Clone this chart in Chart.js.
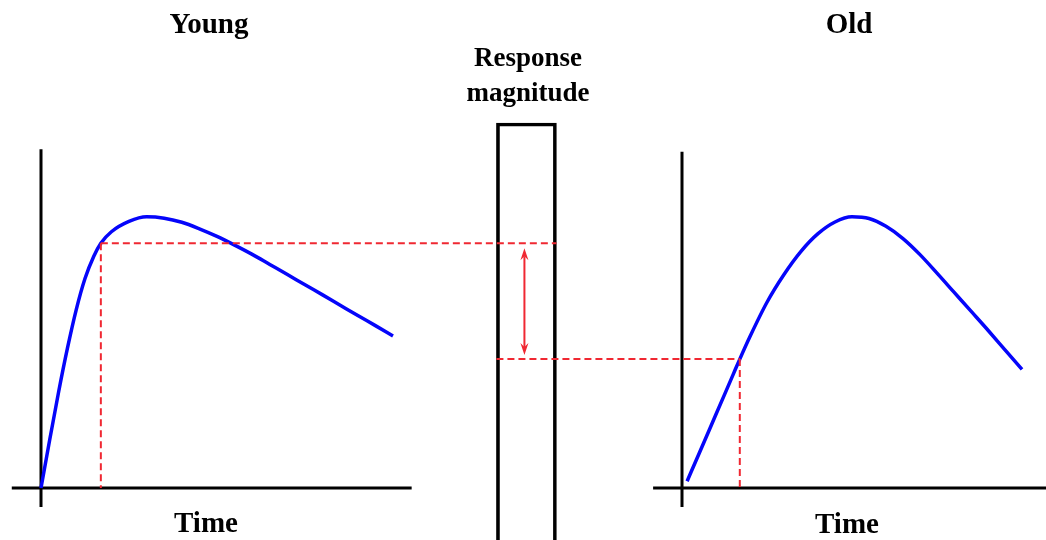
<!DOCTYPE html>
<html>
<head>
<meta charset="utf-8">
<script src="https://cdn.jsdelivr.net/npm/chart.js@4"></script>
<style>
  body { margin: 0; background: #fff; }
  #wrap { position: relative; width: 1046px; height: 540px; overflow: hidden; }
  #sketchChart { position: absolute; left: 0; top: 0; }
  .lbl { position: absolute; width: 300px; text-align: center; font-family: "Liberation Serif", "DejaVu Serif", serif; font-weight: bold; color: #000; white-space: nowrap; }
</style>
</head>
<body>
<div id="wrap">
  <canvas id="sketchChart" width="1046" height="540"></canvas>
  <div class="lbl" style="left:59px; top:9px; font-size:29px; line-height:29px;">Young</div>
  <div class="lbl" style="left:699px; top:9px; font-size:29px; line-height:29px;">Old</div>
  <div class="lbl" style="left:378px; top:40px; font-size:27px; line-height:35px;">Response<br>magnitude</div>
  <div class="lbl" style="left:56px; top:508px; font-size:29px; line-height:29px;">Time</div>
  <div class="lbl" style="left:697px; top:509px; font-size:29px; line-height:29px;">Time</div>
</div>
<script>
// curves (time 0..10, response relative to young peak)
const youngTime = [0, 0.25, 0.5, 0.75, 1, 1.25, 1.5, 1.7, 2, 2.5, 3, 3.5, 4, 4.5, 5, 5.5, 6, 6.5, 7, 7.5, 8, 8.5, 9, 9.5, 10];
const youngResp = [0, 0.179, 0.353, 0.513, 0.655, 0.77, 0.852, 0.9, 0.942, 0.98, 0.997, 0.992, 0.977, 0.953, 0.925, 0.893, 0.859, 0.822, 0.785, 0.747, 0.71, 0.672, 0.634, 0.597, 0.559];
const oldTime = [0.15, 0.5, 1, 1.5, 1.7, 2, 2.5, 3, 3.5, 4, 4.5, 5, 5.5, 6, 6.5, 7, 7.5, 8, 8.5, 9, 9.5, 10];
const oldResp = [0.025, 0.126, 0.271, 0.416, 0.474, 0.557, 0.683, 0.785, 0.87, 0.935, 0.978, 0.997, 0.991, 0.962, 0.917, 0.858, 0.79, 0.72, 0.65, 0.58, 0.508, 0.436];
const probeTime = 1.7;
const magnitudeRange = [-0.3, 1.342];

// where things sit on the canvas
const frame = { width: 1046, height: 540, youngX0: 41, youngX10: 393, oldX0: 682, oldX10: 1022, baseY: 488, peakY: 216, boxCenterX: 527, boxWidth: 60 };

function spanFor(x0, x10) {
    const k = (x10 - x0) / 10;
    return { min: -x0 / k, max: (frame.width - x0) / k };
}
const kY = frame.baseY - frame.peakY;
const ySpan = { min: -(frame.height - frame.baseY) / kY, max: frame.baseY / kY };

const axisLines = [
    { xAxis: 'xY', tFrom: -0.83, tTo: 10.53, rFrom: -0.07, rTo: 1.245 },
    { xAxis: 'xO', tFrom: -0.85, tTo: 11, rFrom: -0.07, rTo: 1.236 }
];

const red = 'rgb(240, 40, 50)';
const blue = 'rgb(5, 5, 250)';

function arrowHead(ctx, x, y, dir) {
    ctx.beginPath();
    ctx.moveTo(x, y);
    ctx.lineTo(x - 4, y + dir * 12);
    ctx.lineTo(x, y + dir * 8);
    ctx.lineTo(x + 4, y + dir * 12);
    ctx.closePath();
    ctx.fill();
}

const sketchPlugin = {
    id: 'sketch',
    beforeDatasetsDraw(chart) {
        const ctx = chart.ctx;
        const y = chart.scales.y;
        ctx.save();
        ctx.strokeStyle = '#000';
        ctx.lineWidth = 3;
        axisLines.forEach(a => {
            const sx = chart.scales[a.xAxis];
            const x0 = sx.getPixelForValue(0), y0 = y.getPixelForValue(0);
            ctx.beginPath();
            ctx.moveTo(x0, y.getPixelForValue(a.rFrom));
            ctx.lineTo(x0, y.getPixelForValue(a.rTo));
            ctx.moveTo(sx.getPixelForValue(a.tFrom), y0);
            ctx.lineTo(sx.getPixelForValue(a.tTo), y0);
            ctx.stroke();
        });
        ctx.restore();
    },
    afterDatasetsDraw(chart) {
        const ctx = chart.ctx;
        const y = chart.scales.y;
        const box = chart.getDatasetMeta(0).data[0];
        const boxLeft = box.x - box.width / 2;
        const boxRight = box.x + box.width / 2;
        const y0 = y.getPixelForValue(0);

        const yx = chart.scales.xY.getPixelForValue(probeTime);
        const yy = y.getPixelForValue(youngResp[youngTime.indexOf(probeTime)]);
        const ox = chart.scales.xO.getPixelForValue(probeTime);
        const oy = y.getPixelForValue(oldResp[oldTime.indexOf(probeTime)]);

        ctx.save();
        ctx.strokeStyle = red;
        ctx.lineWidth = 2;
        ctx.setLineDash([7, 4]);
        ctx.beginPath();
        ctx.moveTo(yx, yy); ctx.lineTo(boxRight, yy);
        ctx.moveTo(yx, yy); ctx.lineTo(yx, y0);
        ctx.moveTo(boxLeft, oy); ctx.lineTo(ox, oy);
        ctx.moveTo(ox, oy); ctx.lineTo(ox, y0);
        ctx.stroke();

        // double-headed arrow inside the box
        const ax = box.x - 2;
        const top = yy + 5, bottom = oy - 4;
        ctx.setLineDash([]);
        ctx.lineWidth = 2;
        ctx.beginPath();
        ctx.moveTo(ax, top + 8);
        ctx.lineTo(ax, bottom - 8);
        ctx.stroke();
        ctx.fillStyle = red;
        arrowHead(ctx, ax, top, 1);
        arrowHead(ctx, ax, bottom, -1);
        ctx.restore();
    }
};

const ctxSketch = document.getElementById('sketchChart').getContext('2d');

const sketchChart = new Chart(ctxSketch, {
    type: 'line',
    data: {
        datasets: [
            {
                type: 'bar',
                label: 'Response magnitude',
                xAxisID: 'xM',
                yAxisID: 'y',
                data: [{ x: 0, y: magnitudeRange }],
                backgroundColor: 'rgba(0,0,0,0)',
                borderColor: '#000',
                borderWidth: 3,
                borderSkipped: false,
                barThickness: frame.boxWidth,
                grouped: false,
            },
            {
                label: 'Young',
                xAxisID: 'xY',
                yAxisID: 'y',
                data: youngTime.map((t, i) => ({ x: t, y: youngResp[i] })),
                borderColor: blue,
                borderWidth: 3.5,
                pointRadius: 0,
                fill: false,
                cubicInterpolationMode: 'monotone',
            },
            {
                label: 'Old',
                xAxisID: 'xO',
                yAxisID: 'y',
                data: oldTime.map((t, i) => ({ x: t, y: oldResp[i] })),
                borderColor: blue,
                borderWidth: 3.5,
                pointRadius: 0,
                fill: false,
                cubicInterpolationMode: 'monotone',
            },
        ],
    },
    options: {
        responsive: false,
        animation: false,
        layout: { padding: 0 },
        scales: {
            xY: Object.assign({ type: 'linear', display: false }, spanFor(frame.youngX0, frame.youngX10)),
            xO: Object.assign({ type: 'linear', display: false }, spanFor(frame.oldX0, frame.oldX10)),
            xM: { type: 'linear', display: false, min: -frame.boxCenterX, max: frame.width - frame.boxCenterX },
            y: Object.assign({ type: 'linear', display: false }, ySpan),
        },
        plugins: {
            legend: { display: false },
            tooltip: { enabled: false },
        },
    },
    plugins: [sketchPlugin],
});
</script>
</body>
</html>
